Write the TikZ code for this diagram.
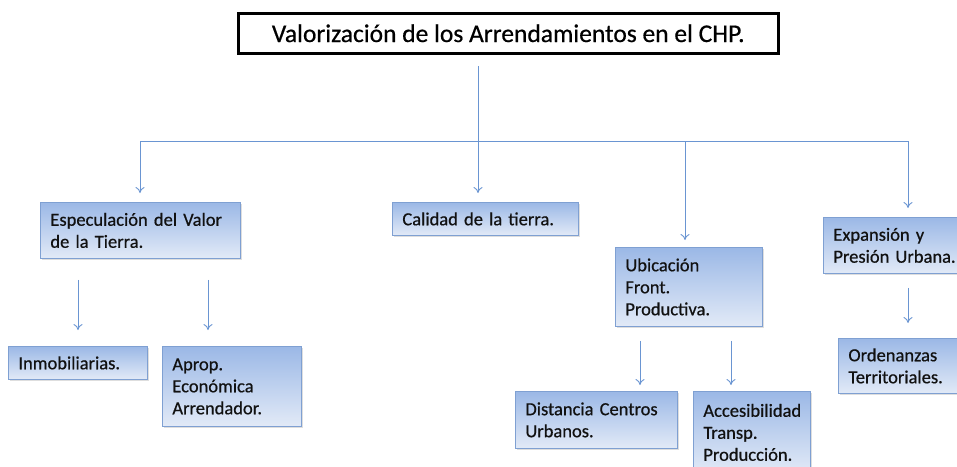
\documentclass[tikz,border=0pt]{standalone}
\usepackage{fontspec}
\setmainfont{Carlito}
\newfontfamily\bxfont{Carlito}[FakeBold=0.6]
\usetikzlibrary{shadows,arrows.meta}
\definecolor{boxtop}{HTML}{9BB8E6}
\definecolor{boxbot}{HTML}{E2EAF7}
\definecolor{boxline}{HTML}{7FA0D2}
\definecolor{arrcol}{HTML}{6A95D2}
\definecolor{txt}{HTML}{111111}
\tikzset{
  bx/.style={draw=boxline, line width=0.8pt, top color=boxtop, bottom color=boxbot,
    anchor=north west, align=left, inner xsep=10pt, inner ysep=2pt,
    font=\bxfont\fontsize{18.5}{22}\selectfont, text=txt,
    drop shadow={shadow xshift=1.5pt, shadow yshift=-1.5pt, fill=black!25, opacity=0.5}},
  ttl/.style={draw=black, line width=2.5pt, fill=white, anchor=north west,
    font=\bxfont\fontsize{25.5}{28}\selectfont, text=black, align=center},
  ln/.style={draw=arrcol, line width=0.9pt},
  arr/.style={ln, -{To[length=6pt,width=9pt]}},
}
\begin{document}
\begin{tikzpicture}[x=1pt,y=-1pt]
\path[use as bounding box, clip] (0,0) rectangle (957,466);
\fill[white] (0,0) rectangle (957,466);
% title
\node[ttl, minimum width=540, minimum height=40] (title) at (237,12) {Valorización de los Arrendamientos en el CHP.};
% level 1
\node[bx, text width=180, minimum height=56] (esp) at (40,202) {Especulación del Valor\\de la Tierra.};
\node[bx, text width=166, minimum height=33] (cal) at (392,202) {Calidad de la tierra.};
\node[bx, text width=127, minimum height=79] (ubi) at (615,247) {Ubicación\\Front.\\Productiva.};
\node[bx, text width=160, minimum height=56] (exp) at (823,217) {Expansión y\\Presión Urbana.};
% level 2
\node[bx, text width=119, minimum height=33] (inm) at (8,346) {Inmobiliarias.};
\node[bx, text width=119, minimum height=80] (apr) at (162,346) {Aprop.\\Económica\\Arrendador.};
\node[bx, text width=142, minimum height=57] (dis) at (515,391) {Distancia Centros\\Urbanos.};
\node[bx, text width=97, minimum height=82] (acc) at (693,391) {Accesibilidad\\Transp.\\Producción.};
\node[bx, text width=130, minimum height=55] (ord) at (838,338) {Ordenanzas\\Territoriales.};
% bus
\coordinate (t0) at (478,66);
\coordinate (bc) at (478,141);
\coordinate (b1) at (140,141);
\coordinate (b3) at (685,141);
\coordinate (b4) at (908,141);
\draw[ln] (t0) -- (bc);
\draw[ln] (b1) -- (b4);
\draw[arr, shorten >=9pt] (b1) -- (b1 |- esp.north);
\draw[arr, shorten >=9pt] (bc) -- (bc |- cal.north);
\draw[arr, shorten >=7pt] (b3) -- (b3 |- ubi.north);
\draw[arr, shorten >=9pt] (b4) -- (b4 |- exp.north);
% level 2 arrows
\coordinate (x1) at (78,0);
\coordinate (x2) at (208,0);
\coordinate (x3) at (640,0);
\coordinate (x4) at (731,0);
\draw[arr, shorten <=21pt, shorten >=16pt] (x1 |- esp.south) -- (x1 |- inm.north);
\draw[arr, shorten <=21pt, shorten >=16pt] (x2 |- esp.south) -- (x2 |- apr.north);
\draw[arr, shorten <=14pt, shorten >=6pt] (x3 |- ubi.south) -- (x3 |- dis.north);
\draw[arr, shorten <=14pt, shorten >=6pt] (x4 |- ubi.south) -- (x4 |- acc.north);
\draw[arr, shorten <=14pt, shorten >=15pt] (b4 |- exp.south) -- (b4 |- ord.north);
\end{tikzpicture}
\end{document}
